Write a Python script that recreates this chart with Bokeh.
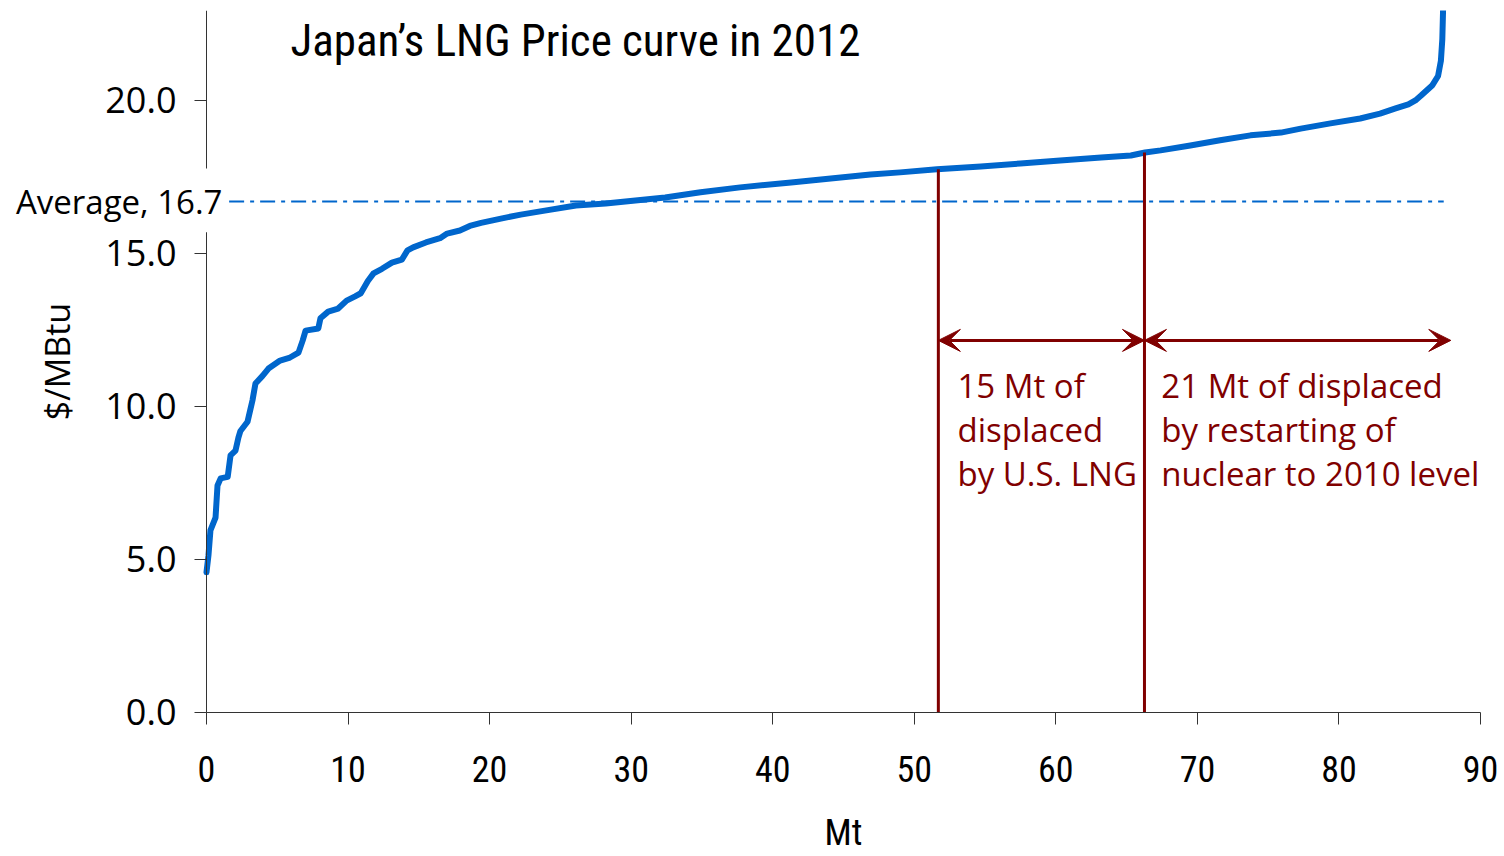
from bokeh.plotting import figure
from bokeh.models import Range1d, Label, Arrow, VeeHead, FixedTicker, CustomJSTickFormatter, BoxAnnotation
from bokeh.embed import file_html
from bokeh.resources import INLINE

# ---- data ----
cum_mt = [0.0, 0.14, 0.28, 0.64, 0.78, 1.0, 1.5, 1.7, 2.05, 2.26, 2.4, 2.9, 3.1, 3.25, 3.46,
          3.96, 4.38, 5.2, 5.9, 6.5, 6.8, 7.0, 7.9, 8.05, 8.6, 9.3, 9.9, 10.5, 10.9, 11.4,
          11.8, 12.4, 13.1, 13.8, 14.2, 14.6, 15.5, 16.5, 17.0, 17.9, 18.6, 19.4, 20.8, 22.2,
          23.9, 26.1, 28.2, 30.3, 32.4, 34.9, 37.7, 41.3, 44.8, 46.9, 49.0, 51.6, 54.7, 57.5,
          60.3, 63.2, 65.3, 66.3, 67.4, 69.5, 71.6, 73.75, 75.9, 77.3, 79.4, 81.5, 82.9, 84.0,
          84.9, 85.4, 85.8, 86.6, 87.0, 87.2, 87.3, 87.35, 87.4]
price = [4.58, 5.13, 5.95, 6.37, 7.42, 7.65, 7.7, 8.4, 8.56, 8.99, 9.2, 9.5, 9.9, 10.2, 10.75,
         11.0, 11.24, 11.5, 11.6, 11.76, 12.16, 12.48, 12.55, 12.88, 13.1, 13.2, 13.46, 13.6, 13.7, 14.1,
         14.35, 14.5, 14.7, 14.8, 15.1, 15.2, 15.36, 15.5, 15.65, 15.75, 15.9, 16.0, 16.14, 16.27,
         16.4, 16.57, 16.63, 16.73, 16.83, 17.0, 17.16, 17.32, 17.48, 17.58, 17.65, 17.75, 17.84, 17.94,
         18.04, 18.14, 18.2, 18.3, 18.37, 18.53, 18.7, 18.86, 18.95, 19.08, 19.25, 19.41, 19.57, 19.74,
         19.87, 20.0, 20.16, 20.5, 20.8, 21.3, 22.0, 22.9, 24.0]
average_price = 16.7
average_x = [1.6, 87.4]
split_x = [51.7, 66.26]
split_top = [17.75, 18.3]
arrow_y = 12.16
arrow_right_end = 87.9
x_ticks = [0, 10, 20, 30, 40, 50, 60, 70, 80, 90]
y_ticks = [0, 5, 10, 15, 20]
title_text = "Japan\u2019s LNG Price curve in 2012"
avg_label = "Average, 16.7"
x_title = "Mt"
y_title = "$/MBtu"
note1 = ["15 Mt of", "displaced", "by U.S. LNG"]
note2 = ["21 Mt of displaced", "by restarting of", "nuclear to 2010 level"]

BLUE = "#0066cc"
RED = "#800000"
NARROW = "Liberation Sans Narrow, Roboto Condensed, Roboto, sans-serif"
PLAIN = "Open Sans"

X_MAX, Y_MAX = 90, 22.94

# the frame covers the whole canvas; both axes are pinned at 0 inside it
p = figure(width=1500, height=856, output_backend="svg", toolbar_location=None,
           x_range=Range1d(-14.55, 91.41), y_range=Range1d(-4.706, Y_MAX),
           min_border_left=0, min_border_right=0, min_border_top=10, min_border_bottom=0)
p.outline_line_color = None
p.xgrid.visible = False
p.ygrid.visible = False
p.background_fill_color = "white"

for ax in (p.xaxis[0], p.yaxis[0]):
    ax.axis_line_color = "#333333"
    ax.major_tick_line_color = "#333333"
    ax.minor_tick_line_color = None
    ax.major_tick_in = 0
    ax.major_tick_out = 12
    ax.major_label_text_color = "black"
    ax.axis_label_text_font_style = "normal"
    ax.axis_label_text_color = "black"

p.yaxis.fixed_location = 0
p.xaxis.fixed_location = 0
p.yaxis.bounds = (0, Y_MAX)
p.xaxis.bounds = (0, X_MAX)

p.xaxis.major_label_text_font = NARROW
p.xaxis.major_label_text_font_size = "36px"
p.yaxis.major_label_text_font = PLAIN
p.yaxis.major_label_text_font_size = "36px"

p.xaxis.ticker = FixedTicker(ticks=x_ticks)
p.yaxis.ticker = FixedTicker(ticks=y_ticks)
p.yaxis.formatter = CustomJSTickFormatter(code="return tick.toFixed(1);")
p.xaxis.major_label_standoff = 32
p.yaxis.major_label_standoff = 18
p.yaxis.axis_label = y_title
p.yaxis.axis_label_text_font = PLAIN
p.yaxis.axis_label_text_font_size = "34px"
p.yaxis.axis_label_standoff = 22

# x axis title, centred under the plotting area
p.add_layout(Label(x=X_MAX / 2, y=-3.95, text=x_title, text_font=NARROW,
                   text_font_size="36px", text_color="black", text_baseline="middle",
                   text_align="center"))

# average line
p.line(average_x, [average_price, average_price], line_color=BLUE, line_width=2,
       line_dash="15 6 4 6")

# price curve
p.line(cum_mt, price, line_color=BLUE, line_width=6, line_join="round", line_cap="round")

# split lines
p.segment(x0=split_x, y0=[0, 0], x1=split_x, y1=split_top, line_color=RED, line_width=3)

# arrows
for xs, xe in [(split_x[0], split_x[1]), (split_x[1], arrow_right_end)]:
    p.add_layout(Arrow(x_start=xs, y_start=arrow_y, x_end=xe, y_end=arrow_y,
                       line_color=RED, line_width=3,
                       start=VeeHead(size=22, fill_color=RED, line_color=RED, line_width=1),
                       end=VeeHead(size=22, fill_color=RED, line_color=RED, line_width=1)))

# notes
line_ys = [10.69, 9.25, 7.81]
for lines, x0 in [(note1, 53.05), (note2, 67.45)]:
    for t, yy in zip(lines, line_ys):
        p.add_layout(Label(x=x0, y=yy, text=t, text_font=PLAIN, text_font_size="33px",
                           text_color=RED, text_baseline="middle", text_align="left"))

# white patch that breaks the y axis line behind the average label
p.add_layout(BoxAnnotation(left=-0.4, right=0.4, bottom=15.69, top=17.78,
                           fill_color="white", fill_alpha=1.0, line_color=None, line_alpha=0))
# average label
p.add_layout(Label(x=1.13, y=average_price, text=avg_label, text_font=PLAIN,
                   text_font_size="33px", text_color="black", text_baseline="middle",
                   text_align="right"))

# title
p.add_layout(Label(x=5.93, y=21.96, text=title_text, text_font=NARROW,
                   text_font_size="45px", text_color="black", text_baseline="middle",
                   text_align="left"))

open("out.html", "w").write(file_html(p, INLINE))
